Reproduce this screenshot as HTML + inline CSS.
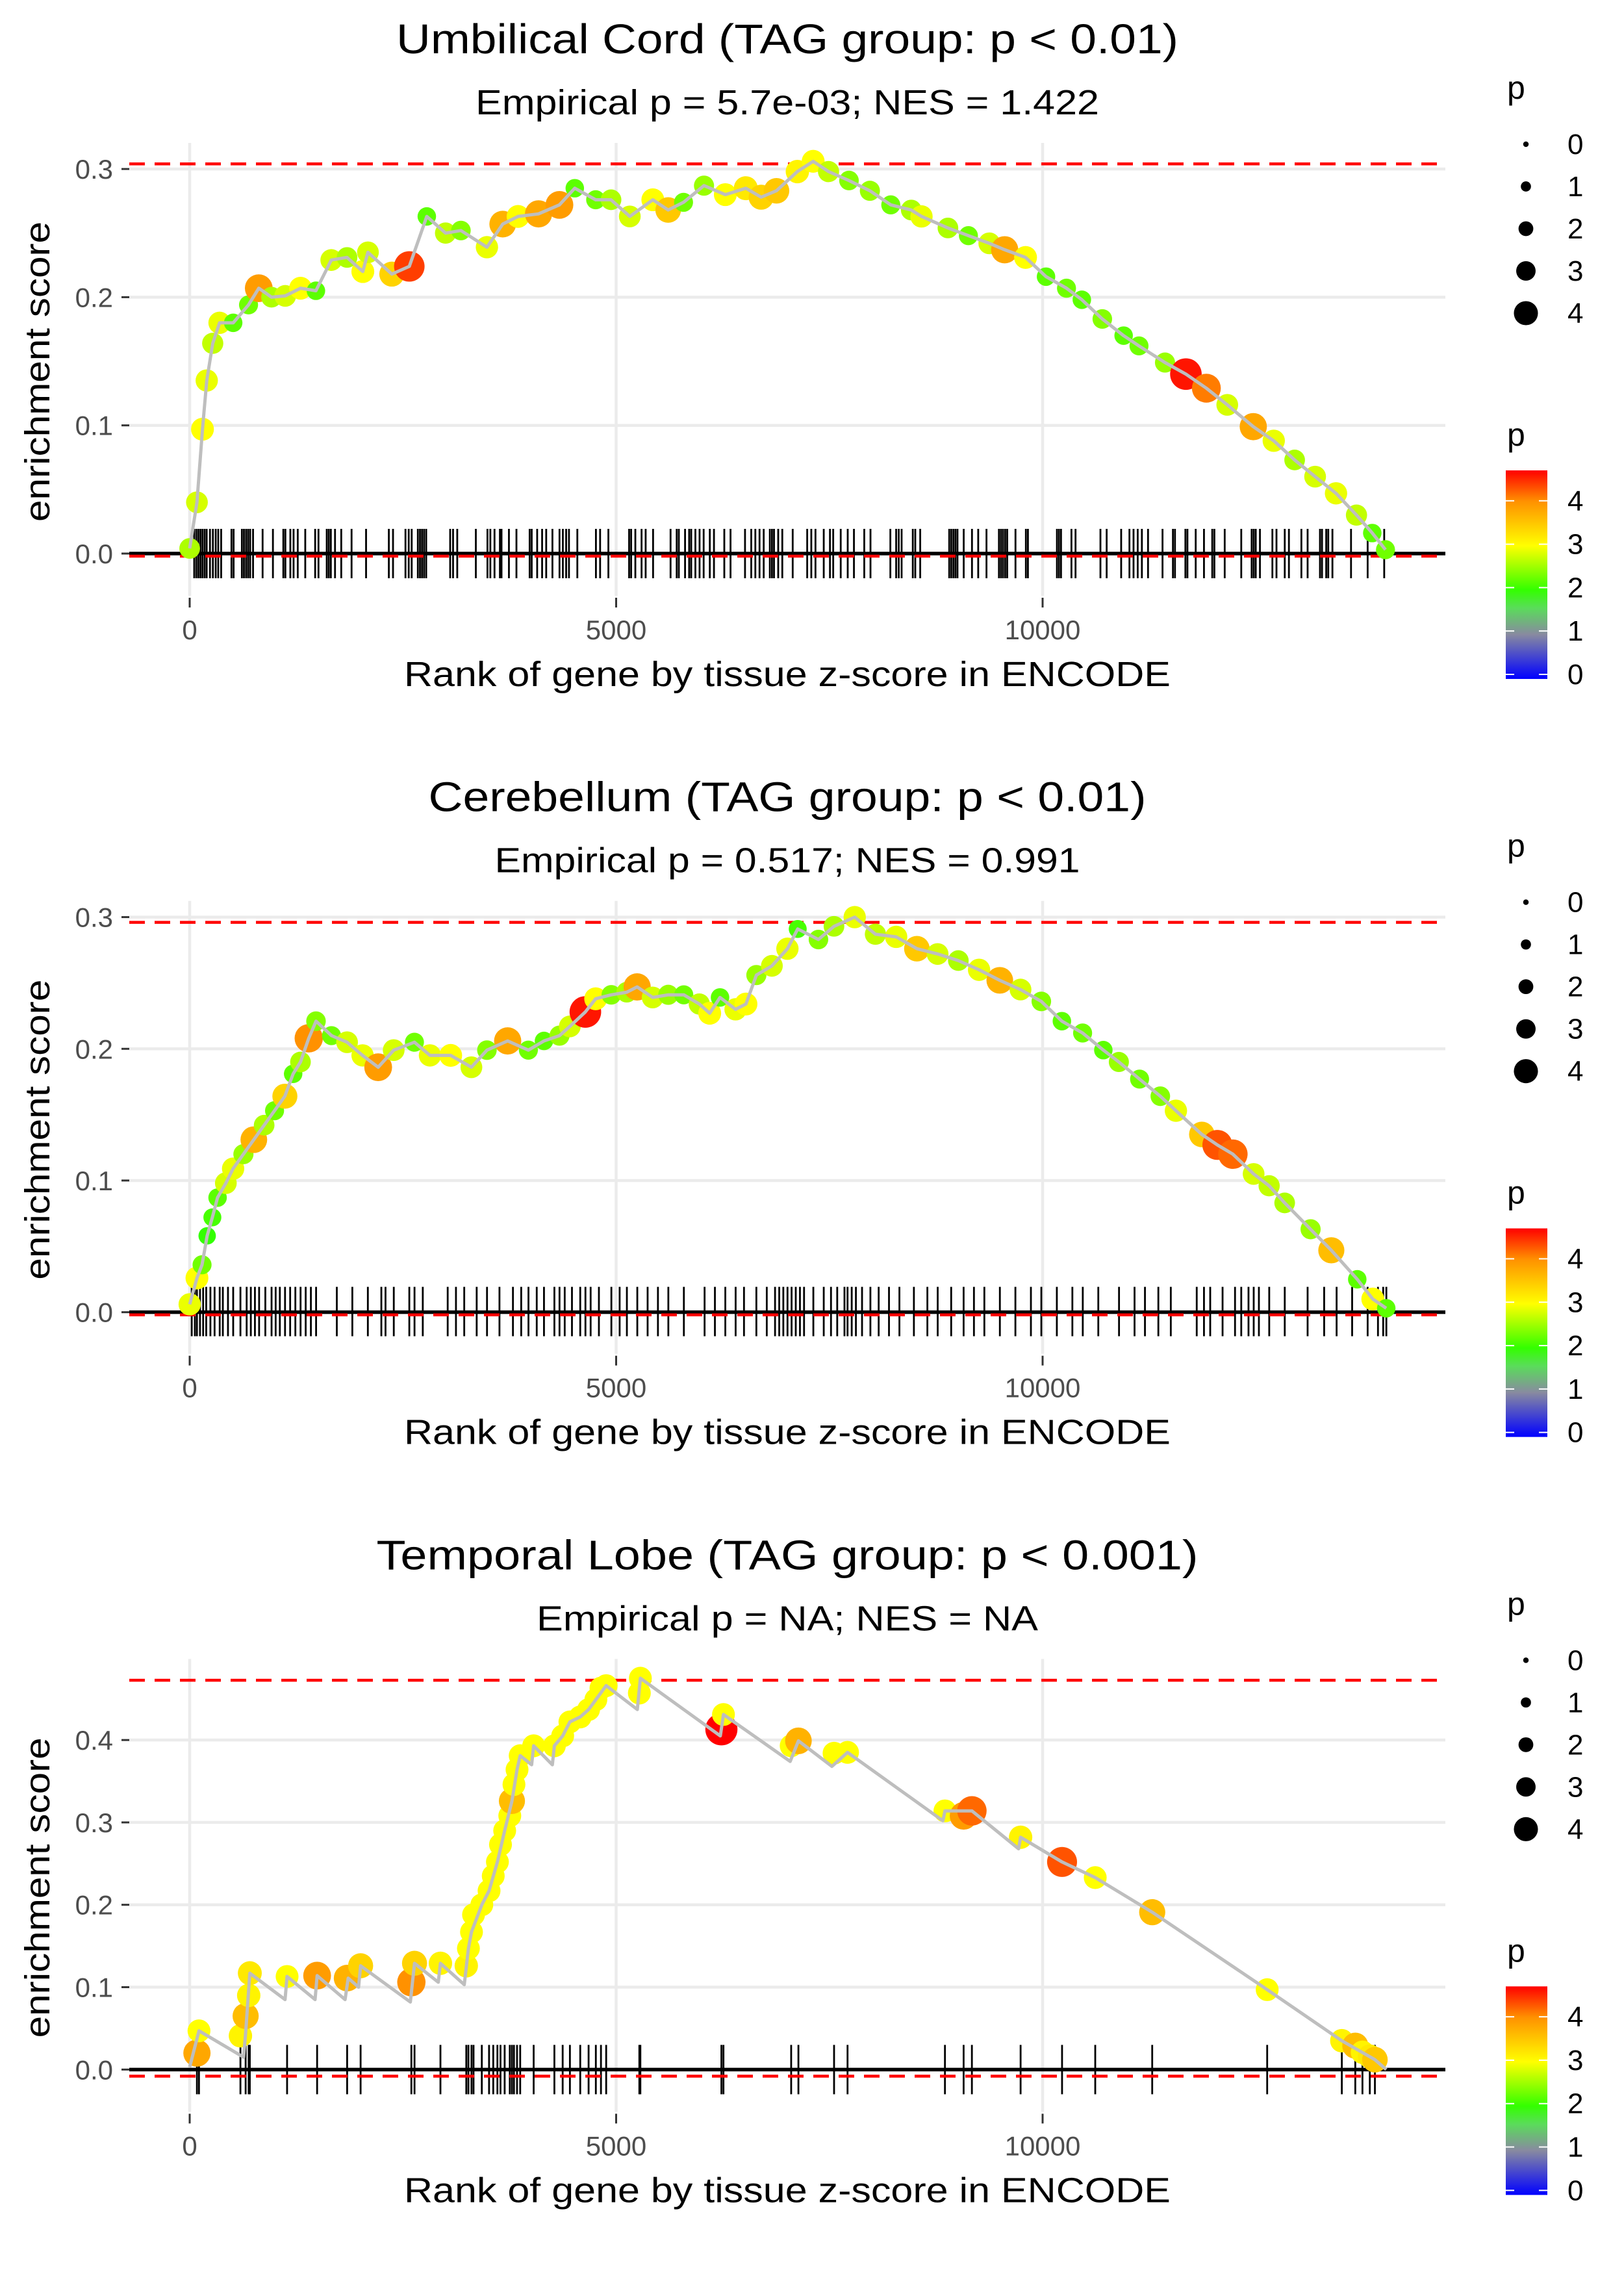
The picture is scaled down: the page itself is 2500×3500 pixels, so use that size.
<!DOCTYPE html>
<html><head><meta charset="utf-8"><title>Enrichment plots</title>
<style>
html,body{margin:0;padding:0;background:#fff;}
svg{display:block;font-family:"Liberation Sans",Arial,sans-serif;}
</style></head>
<body>
<svg id="chart" xmlns="http://www.w3.org/2000/svg" width="2500" height="3500" viewBox="0 0 2500 3500"></svg>
<script>
// ---------- Panel 1: Umbilical Cord ----------
const p1Rank = [0,85,150,200,270,350,510,690,810,960,1120,1300,1480,1660,1845,2030,2090,2370,2575,2780,3000,3180,3485,3670,3850,4090,4335,4515,4760,4940,5160,5430,5610,5790,6030,6280,6520,6700,6880,7125,7310,7490,7730,7975,8220,8460,8580,8890,9130,9375,9555,9800,10040,10280,10460,10700,10950,11130,11435,11680,11920,12165,12470,12710,12955,13195,13440,13680,13865,14020];
const p1ES = [0.004,0.04,0.097,0.135,0.164,0.18,0.18,0.194,0.207,0.2,0.201,0.207,0.205,0.229,0.231,0.22,0.235,0.218,0.224,0.263,0.25,0.252,0.239,0.257,0.263,0.265,0.272,0.285,0.276,0.276,0.263,0.276,0.268,0.274,0.287,0.28,0.285,0.278,0.283,0.298,0.306,0.298,0.291,0.283,0.272,0.268,0.263,0.254,0.248,0.242,0.237,0.231,0.216,0.207,0.198,0.183,0.17,0.162,0.149,0.14,0.129,0.116,0.099,0.088,0.073,0.06,0.047,0.03,0.016,0.003];
const p1P = [2.6,2.8,3.0,2.9,2.7,2.9,2.2,2.3,3.9,2.6,2.8,3.0,2.2,2.8,2.6,3.0,2.8,3.4,4.4,2.2,2.7,2.4,2.9,3.7,3.0,3.8,3.9,2.2,2.3,2.6,2.8,3.0,3.5,2.3,2.5,3.0,3.2,3.4,3.5,3.1,3.0,2.7,2.4,2.5,2.3,2.6,2.9,2.6,2.3,2.8,3.8,3.0,2.2,2.3,2.2,2.4,2.2,2.3,2.5,4.6,4.1,2.8,3.8,2.9,2.6,2.8,2.9,2.7,2.2,2.3];
const p1Rug = [53,78,102,126,150,175,199,238,272,305,335,369,490,515,612,636,661,685,709,743,855,976,1098,1122,1180,1218,1267,1355,1471,1510,1607,1631,1655,1704,1777,1898,2068,2335,2384,2530,2568,2603,2675,2700,2724,2748,2773,3054,3088,3137,3355,3491,3525,3574,3637,3656,3743,3831,3986,4010,4074,4132,4180,4253,4336,4375,4414,4447,4545,4763,4812,4909,5152,5176,5225,5298,5346,5433,5638,5710,5735,5808,5856,5880,5929,5978,6026,6098,6147,6268,6341,6511,6584,6632,6681,6730,6802,6827,6851,6900,6948,7070,7240,7288,7337,7434,7507,7545,7633,7715,7788,7909,7982,8215,8283,8313,8347,8478,8507,8565,8905,8929,8954,8978,9002,9075,9172,9245,9342,9488,9512,9536,9561,9585,9682,9804,9828,10168,10192,10216,10338,10386,10678,10751,10921,11018,11066,11115,11164,11236,11406,11528,11552,11674,11698,11795,11892,11989,12014,12135,12329,12451,12475,12499,12548,12694,12742,12839,12888,13034,13107,13252,13276,13325,13349,13398,13616,13811,14005];

// ---------- Panel 2: Cerebellum ----------
const p2Rank = [0,85,145,205,266,327,424,509,630,752,873,995,1116,1213,1299,1396,1481,1663,1845,2027,2210,2392,2635,2817,3060,3303,3485,3728,3971,4154,4336,4457,4639,4760,4943,5125,5246,5428,5611,5793,5975,6097,6218,6400,6522,6644,6826,7008,7129,7372,7554,7797,8040,8283,8526,8769,9012,9255,9498,9741,9985,10226,10469,10712,10894,11137,11380,11563,11867,12049,12231,12474,12656,12838,13142,13385,13689,13871,14029];
const p2ES = [0.006,0.026,0.036,0.058,0.072,0.087,0.098,0.109,0.12,0.131,0.142,0.153,0.164,0.181,0.19,0.208,0.221,0.21,0.205,0.195,0.186,0.199,0.205,0.195,0.195,0.186,0.199,0.206,0.199,0.206,0.21,0.217,0.228,0.238,0.241,0.243,0.247,0.239,0.241,0.241,0.234,0.227,0.239,0.23,0.234,0.256,0.263,0.276,0.291,0.283,0.293,0.3,0.287,0.285,0.276,0.272,0.267,0.26,0.252,0.245,0.236,0.221,0.212,0.199,0.19,0.177,0.164,0.153,0.135,0.127,0.12,0.105,0.096,0.083,0.063,0.047,0.025,0.01,0.003];
const p2P = [2.9,3.0,2.3,2.0,2.1,2.2,2.8,2.9,2.5,3.7,2.6,2.3,3.4,2.2,2.6,4.0,2.4,2.3,2.8,2.9,3.9,2.8,2.3,2.9,3.0,2.8,2.4,3.8,2.3,2.2,2.5,2.8,4.6,3.0,2.4,2.6,3.8,2.8,2.5,2.3,2.7,3.0,2.2,2.9,3.0,2.5,2.8,2.9,2.1,2.4,2.6,2.9,2.7,2.9,3.5,2.8,2.6,2.9,3.7,2.8,2.4,2.2,2.3,2.2,2.5,2.3,2.4,2.9,3.5,4.3,4.2,2.8,2.7,2.6,2.5,3.6,2.2,3.0,2.2];
const p2Rug = [24,61,85,121,158,194,243,292,352,389,449,510,595,668,717,765,814,887,960,1008,1057,1118,1178,1239,1300,1360,1421,1482,1725,1907,2089,2247,2296,2393,2575,2636,2733,3025,3122,3219,3365,3486,3632,3790,3887,3972,4069,4154,4276,4336,4397,4482,4579,4640,4701,4798,4944,5041,5126,5248,5369,5490,5612,5794,6037,6158,6280,6401,6499,6644,6766,6863,6912,6960,7009,7057,7106,7155,7203,7312,7434,7519,7592,7677,7713,7762,7811,7883,7981,8078,8199,8321,8491,8649,8770,8928,9074,9195,9317,9499,9681,9863,9985,10167,10349,10471,10653,10896,11078,11200,11357,11503,11807,11892,11965,12110,12256,12329,12414,12475,12536,12657,12839,13107,13301,13447,13629,13811,13932,13993,14030];

// ---------- Panel 3: Temporal Lobe ----------
const p3Rank = [85,109,595,656,692,705,1142,1494,1846,2004,2599,2636,2940,3243,3268,3304,3328,3425,3510,3559,3608,3644,3693,3753,3778,3802,3838,3875,4033,4276,4373,4458,4579,4677,4762,4822,4883,5272,5284,6234,6258,7052,7137,7555,7713,8855,9074,9171,9742,10228,10617,11285,12633,13508,13666,13750,13836,13896];
const p3ES = [0.02,0.047,0.041,0.065,0.09,0.117,0.113,0.114,0.111,0.126,0.106,0.129,0.129,0.126,0.147,0.167,0.188,0.2,0.217,0.235,0.252,0.273,0.29,0.308,0.326,0.346,0.364,0.381,0.393,0.393,0.405,0.422,0.428,0.437,0.449,0.463,0.466,0.457,0.475,0.413,0.431,0.393,0.399,0.384,0.385,0.314,0.308,0.314,0.282,0.252,0.233,0.191,0.097,0.035,0.029,0.021,0.016,0.012];
const p3P = [3.8,3.0,3.1,3.6,3.1,3.2,3.0,3.9,3.7,3.4,4.0,3.4,3.1,3.1,3.0,3.0,3.0,3.0,3.0,3.0,3.0,3.0,3.0,3.0,3.6,3.0,3.0,3.0,3.0,3.0,3.0,3.0,3.0,3.0,3.0,3.0,3.0,3.0,3.0,4.7,3.0,3.0,3.7,3.0,3.0,3.0,3.9,4.2,3.1,4.3,3.0,3.6,3.0,3.1,3.6,3.1,3.2,3.5];
const p3LineRank = [0,109,632,656,705,1118,1142,1470,1494,1822,1858,1980,2004,2587,2636,2915,2940,3219,3268,3304,3425,3510,3608,3693,3778,3838,3875,4009,4033,4252,4276,4373,4458,4579,4677,4762,4883,5248,5284,6222,6258,7040,7137,7530,7713,8831,8855,9171,9718,9742,10228,10617,11285,12633,13508,13896,14029];
const p3LineES = [0.003,0.047,0.015,0.044,0.117,0.085,0.113,0.085,0.114,0.085,0.111,0.1,0.126,0.082,0.129,0.106,0.129,0.103,0.147,0.167,0.2,0.217,0.252,0.29,0.326,0.364,0.381,0.37,0.393,0.37,0.393,0.405,0.422,0.428,0.437,0.449,0.466,0.437,0.475,0.405,0.431,0.374,0.399,0.368,0.385,0.302,0.314,0.314,0.268,0.282,0.252,0.233,0.191,0.097,0.035,0.012,0.0];

const titles = ["Umbilical Cord (TAG group: p < 0.01)","Cerebellum (TAG group: p < 0.01)","Temporal Lobe (TAG group: p < 0.001)"];
const subtitles = ["Empirical p = 5.7e-03; NES = 1.422","Empirical p = 0.517; NES = 0.991","Empirical p = NA; NES = NA"];
const yTicks1 = [0,0.1,0.2,0.3];
const yTicks2 = [0,0.1,0.2,0.3];
const yTicks3 = [0,0.1,0.2,0.3,0.4];
const xTicks = [0,5000,10000];
const xTickLabels = ["0","5000","10000"];
const maxES = [0.304,0.296,0.4726];
const minES = [-0.002,-0.002,-0.008];
const sizeLegendValues = [0,1,2,3,4];
const colorLegendValues = [0,1,2,3,4];

const NS = "http://www.w3.org/2000/svg";
const svg = document.getElementById("chart");
function mk(tag, attrs, parent) {
  const e = document.createElementNS(NS, tag);
  for (const k in attrs) e.setAttribute(k, attrs[k]);
  (parent || svg).appendChild(e);
  return e;
}
const stops = [[0,[0,0,255]],[1,[136,138,160]],[1.6,[90,220,90]],[2,[51,255,0]],[3,[255,255,0]],[4,[255,145,0]],[4.7,[255,0,0]]];
function pColor(v) {
  if (v <= stops[0][0]) return "rgb(0,0,255)";
  for (let i = 1; i < stops.length; i++) {
    if (v <= stops[i][0]) {
      const a = stops[i-1], b = stops[i], t = (v - a[0]) / (b[0] - a[0]);
      const c = a[1].map((x, j) => Math.round(x + (b[1][j] - x) * t));
      return "rgb(" + c.join(",") + ")";
    }
  }
  return "rgb(255,0,0)";
}
function pRadius(v) { return 5 + 4.2 * v; }

const X0 = 292, XPX = 0.1313;
function xs(r) { return X0 + r * XPX; }
const PANEL_H = 3500 / 3;
const panels = [
  {rank:p1Rank, es:p1ES, p:p1P, rug:p1Rug, lineR:p1Rank, lineE:p1ES, zero:852, scale:1973, ticks:yTicks1, tw:[1204,960]},
  {rank:p2Rank, es:p2ES, p:p2P, rug:p2Rug, lineR:p2Rank, lineE:p2ES, zero:853, scale:2027, ticks:yTicks2, tw:[1105,901]},
  {rank:p3Rank, es:p3ES, p:p3P, rug:p3Rank, lineR:p3LineRank, lineE:p3LineES, zero:852, scale:1268, ticks:yTicks3, tw:[1265,772]}
];

panels.forEach((P, k) => {
  const off = k * PANEL_H;
  const ys = v => off + P.zero - v * P.scale;
  const g = mk("g", {});
  
  

  const t = mk("text", {x:1212, y:off+82, "text-anchor":"middle", "font-size":64, fill:"#000", textLength:P.tw[0], lengthAdjust:"spacingAndGlyphs"}, g);
  t.textContent = titles[k];
  
  
  const st = mk("text", {x:1212, y:off+176, "text-anchor":"middle", "font-size":54, fill:"#000", textLength:P.tw[1], lengthAdjust:"spacingAndGlyphs"}, g);
  st.textContent = subtitles[k];
  
  

  P.ticks.forEach(v => {
    const l = mk("line", {x1:199, x2:2225, y1:ys(v), y2:ys(v), stroke:"#ebebeb", "stroke-width":4.5}, g);
    
    
  });
  xTicks.forEach(r => {
    const l = mk("line", {x1:xs(r), x2:xs(r), y1:off+220, y2:off+917, stroke:"#ebebeb", "stroke-width":4.5}, g);
    
    
  });
  P.ticks.forEach(v => {
    const tk = mk("line", {x1:187, x2:199, y1:ys(v), y2:ys(v), stroke:"#333", "stroke-width":3}, g);
    
    
    const tl = mk("text", {x:174, y:ys(v)+15, "text-anchor":"end", "font-size":42, fill:"#4d4d4d"}, g);
    tl.textContent = v.toFixed(1);
    
    
  });
  xTicks.forEach((r, i) => {
    const tk = mk("line", {x1:xs(r), x2:xs(r), y1:off+920, y2:off+935, stroke:"#333", "stroke-width":3}, g);
    
    
    const tl = mk("text", {x:xs(r), y:off+984, "text-anchor":"middle", "font-size":42, fill:"#4d4d4d"}, g);
    tl.textContent = xTickLabels[i];
    
    
  });
  const xt = mk("text", {x:1212, y:off+1056, "text-anchor":"middle", "font-size":54, fill:"#000", textLength:1180, lengthAdjust:"spacingAndGlyphs"}, g);
  xt.textContent = "Rank of gene by tissue z-score in ENCODE";
  
  
  const yt = mk("text", {x:0, y:0, "text-anchor":"middle", "font-size":54, fill:"#000", textLength:462, lengthAdjust:"spacingAndGlyphs", transform:"translate(76," + (off+572) + ") rotate(-90)"}, g);
  yt.textContent = "enrichment score";
  
  

  const rugG = mk("g", {}, g);
  
  
  P.rug.forEach(r => {
    const l = mk("line", {x1:xs(r), x2:xs(r), y1:off+814, y2:off+890, stroke:"#000", "stroke-width":2.8}, rugG);
    
    
  });
  const z = mk("line", {x1:199, x2:2225, y1:ys(0), y2:ys(0), stroke:"#000", "stroke-width":5.5}, g);
  
  
  [maxES[k], minES[k]].forEach((v, i) => {
    const l = mk("line", {x1:199, x2:2225, y1:ys(v), y2:ys(v), stroke:"#ff0000", "stroke-width":4.5, "stroke-dasharray":"24 15"}, g);
    
    
  });
  const ptG = mk("g", {}, g);
  
  
  P.rank.forEach((r, i) => {
    const c = mk("circle", {cx:xs(r), cy:ys(P.es[i]), r:pRadius(P.p[i]), fill:pColor(P.p[i])}, ptG);
    
    
  });
  const pts = P.lineR.map((r, i) => xs(r).toFixed(1) + "," + ys(P.lineE[i]).toFixed(1)).join(" ");
  const pl = mk("polyline", {points:pts, fill:"none", stroke:"#bebebe", "stroke-width":5, "stroke-linejoin":"round"}, g);
  
  

  const sl = mk("g", {}, g);
  
  
  const slt = mk("text", {x:2320, y:off+152, "font-size":50, fill:"#000"}, sl);
  slt.textContent = "p";
  
  
  sizeLegendValues.forEach((v, i) => {
    const cy = off + 222 + i * 65;
    const c = mk("circle", {cx:2349, cy:cy, r:pRadius(v) * 0.85, fill:"#000"}, sl);
    
    
    const tl = mk("text", {x:2413, y:cy+15, "font-size":44, fill:"#000"}, sl);
    tl.textContent = String(v);
    
    
  });
  const cl = mk("g", {}, g);
  
  
  const clt = mk("text", {x:2320, y:off+686, "font-size":50, fill:"#000"}, cl);
  clt.textContent = "p";
  
  
  const gid = "cbar" + k;
  const defs = mk("defs", {}, cl);
  const lg = mk("linearGradient", {id:gid, x1:0, y1:1, x2:0, y2:0}, defs);
  stops.forEach(s => {
    mk("stop", {offset:(s[0] / 4.7).toFixed(3), "stop-color":"rgb(" + s[1].join(",") + ")"}, lg);
  });
  const barTop = off + 724, barBot = off + 1045;
  const bar = mk("rect", {x:2318, y:barTop, width:64, height:barBot - barTop, fill:"url(#" + gid + ")"}, cl);
  
  
  colorLegendValues.forEach(v => {
    const yy = off + 1038 - v * 66.8;
    mk("line", {x1:2318, x2:2331, y1:yy, y2:yy, stroke:"#fff", "stroke-width":2}, cl);
    mk("line", {x1:2369, x2:2382, y1:yy, y2:yy, stroke:"#fff", "stroke-width":2}, cl);
    const tl = mk("text", {x:2413, y:yy+15, "font-size":44, fill:"#000"}, cl);
    tl.textContent = String(v);
    
    
  });
});
</script>
</body></html>
